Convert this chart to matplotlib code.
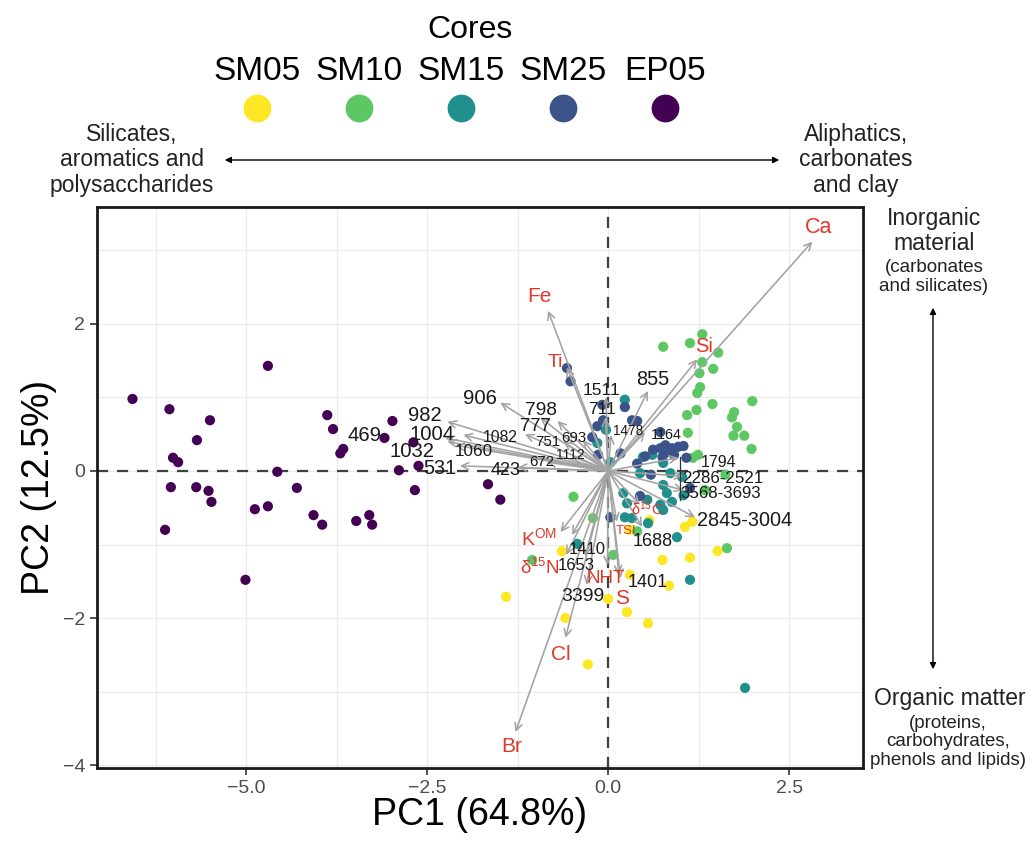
import numpy as np
import matplotlib
matplotlib.use("Agg")
import matplotlib.pyplot as plt

plt.rcParams['font.family'] = ['Liberation Sans', 'DejaVu Sans']
plt.rcParams['mathtext.default'] = 'regular'

# sample scores (PC1, PC2) per core
cores = ['SM05', 'SM10', 'SM15', 'SM25', 'EP05']
core_colors = ['#FDE725', '#5DC863', '#21908C', '#3B528B', '#440154']

sm05_x = [-0.64, -1.41, -0.59, -0.28, 0.00, 0.26, 0.55, 0.75, 1.13, 1.51, 0.84, 1.06, 1.16, 0.57, 0.30, 0.30]
sm05_y = [-1.09, -1.71, -2.00, -2.63, -1.74, -1.92, -2.07, -1.21, -1.18, -1.09, -1.56, -0.76, -0.69, -0.67, -0.80, -1.41]

sm10_x = [1.30, 1.13, 1.52, 0.76, 1.30, 1.26, 1.45, 1.27, 1.23, 1.99, 1.44, 1.22, 1.09, 1.74, 1.71,
          1.78, 1.73, 1.88, 1.98, 1.10, 1.24, 1.17, -0.48, 1.62, -0.21, 0.07, -1.05, 1.64, 0.40, 1.34]
sm10_y = [1.86, 1.74, 1.61, 1.69, 1.48, 1.33, 1.39, 1.14, 1.06, 0.95, 0.91, 0.83, 0.76, 0.80, 0.73,
          0.60, 0.48, 0.48, 0.30, 0.52, 0.22, 0.18, -0.35, -0.05, -0.64, -1.14, -1.21, -1.05, -0.82, -0.26]

sm15_x = [0.23, -0.15, 0.03, 0.44, 0.48, 0.61, 0.76, 0.86, 0.76, 1.02, 0.81, 0.21, 0.26, 0.54, 0.72,
          0.88, 0.76, 0.95, 1.04, -0.43, 1.13, 0.23, 0.33, 0.55, 1.89, -0.03]
sm15_y = [0.97, 0.38, 0.12, -0.03, 0.19, 0.22, 0.11, -0.03, -0.19, -0.08, -0.30, -0.30, -0.44, -0.39, -0.46,
          -0.42, -0.53, -0.90, -0.33, -0.99, -1.48, -0.63, -0.64, -0.71, -2.95, 0.56]

sm25_x = [-0.57, -0.52, -0.08, -0.07, -0.15, 0.23, 0.33, 0.40, -0.22, -0.14, 0.17, 0.40, 0.59, 0.44,
          0.03, 0.72, 0.62, 0.72, 0.79, 0.83, 0.75, 0.88, 0.97, 1.04, 1.08, 0.91, 1.13, 0.51]
sm25_y = [1.40, 1.22, 0.90, 0.69, 0.61, 0.87, 0.69, 0.68, 0.46, 0.22, 0.24, 0.10, -0.05, -0.34,
          -0.63, 0.53, 0.29, 0.31, 0.35, 0.26, 0.19, 0.31, 0.33, 0.34, 0.18, 0.22, -0.23, 0.20]

ep05_x = [-6.57, -6.06, -5.50, -5.68, -6.01, -5.94, -4.70, -6.04, -5.69, -5.52, -5.48, -4.57, -4.30,
          -4.88, -4.70, -4.07, -3.95, -3.48, -3.30, -3.26, -6.12, -3.88, -3.80, -3.70, -3.66, -2.98,
          -3.09, -2.69, -2.89, -2.62, -2.67, -1.66, -1.49, -5.01]
ep05_y = [0.98, 0.84, 0.69, 0.42, 0.18, 0.12, 1.43, -0.22, -0.22, -0.27, -0.42, -0.01, -0.23,
          -0.52, -0.48, -0.60, -0.73, -0.68, -0.60, -0.73, -0.80, 0.76, 0.57, 0.24, 0.30, 0.68,
          0.45, 0.39, 0.01, 0.07, -0.26, -0.18, -0.39, -1.48]

scores = [(sm05_x, sm05_y), (sm10_x, sm10_y), (sm15_x, sm15_y), (sm25_x, sm25_y), (ep05_x, ep05_y)]

# variable loadings: name, arrow tip, label position, red (element/proxy) or black (band)
var_names = ['Ca', 'Fe', 'Ti', 'Si', '855', '1511', '711', '1478', '1164', '1794',
             '2286-2521', '3568-3693', '2845-3004', r'$\delta^{13}$C', 'TSI', '1688',
             r'K$^{OM}$', '1410', r'$\delta^{15}$N', '1653', 'NHT', '1401', 'S', '3399', 'Cl', 'Br',
             '906', '798', '777', '1082', '982', '1004', '1032', '469', '1060', '531', '423',
             '751', '693', '1112', '672']
load_x = [2.82, -0.83, -0.57, 1.23, 0.55, -0.03, -0.04, 0.04, 0.51, 0.97,
          1.04, 1.04, 1.20, 0.44, 0.12, 0.47,
          -0.66, -0.50, -0.58, -0.32, -0.01, 0.17, 0.15, -0.30, -0.59, -1.28,
          -1.49, -0.94, -0.70, -1.15, -2.22, -2.00, -2.11, -2.25, -2.22, -2.05, -1.25,
          -0.62, -0.35, -0.50, -0.85]
load_y = [3.12, 2.18, 1.41, 1.52, 1.09, 1.00, 0.73, 0.49, 0.53, 0.18,
          -0.07, -0.26, -0.63, -0.46, -0.69, -0.76,
          -0.83, -0.87, -1.14, -1.16, -1.28, -1.46, -1.41, -1.55, -2.27, -3.55,
          0.93, 0.73, 0.68, 0.50, 0.67, 0.49, 0.35, 0.45, 0.40, 0.07, 0.05,
          0.40, 0.42, 0.20, 0.12]
label_x = [2.91, -0.95, -0.73, 1.33, 0.61, -0.09, -0.08, 0.28, 0.80, 1.52,
           1.58, 1.56, 1.89, 0.53, 0.25, 0.62,
           -0.96, -0.29, -0.94, -0.44, -0.03, 0.54, 0.19, -0.35, -0.66, -1.33,
           -1.77, -0.93, -1.01, -1.49, -2.53, -2.43, -2.71, -3.36, -1.85, -2.32, -1.42,
           -0.83, -0.48, -0.52, -0.91]
label_y = [3.31, 2.37, 1.48, 1.69, 1.25, 1.10, 0.83, 0.54, 0.49, 0.11,
           -0.10, -0.30, -0.67, -0.51, -0.82, -0.96,
           -0.92, -1.07, -1.32, -1.28, -1.46, -1.52, -1.73, -1.71, -2.50, -3.75,
           0.98, 0.82, 0.60, 0.46, 0.76, 0.49, 0.26, 0.48, 0.27, 0.04, 0.01,
           0.39, 0.45, 0.22, 0.12]
var_red = [True, True, True, True, False, False, False, False, False, False,
           False, False, False, True, True, False,
           True, False, True, False, True, False, True, False, True, True,
           False, False, False, False, False, False, False, False, False, False, False,
           False, False, False, False]
label_size = [15.5, 15, 14, 14.5, 14.3, 12.5, 12.5, 9.8, 10.3, 11.5,
              12.2, 12.2, 14.3, 10.5, 9.5, 13,
              14, 12, 13.5, 12, 13.5, 13, 15, 14, 15, 15,
              14.7, 13.8, 13.2, 11.3, 14.5, 14.6, 14.6, 14.6, 12.3, 14.3, 13,
              10.8, 10.8, 10, 10.8]

fig = plt.figure(figsize=(10.3, 8.44), dpi=100)
ax = fig.add_axes([0.0942, 0.090, 0.7437, 0.6647])

for (xs, ys), c in zip(scores, core_colors):
    ax.scatter(xs, ys, s=54, color=c, edgecolors='none', zorder=3)

ax.axhline(0, color='#404040', ls=(0, (5, 4)), lw=1.6, zorder=2)
ax.axvline(0, color='#404040', ls=(0, (5, 4)), lw=1.6, zorder=2)

red = '#E0382B'
for name, tx, ty, lx, ly, isred, fs in zip(var_names, load_x, load_y, label_x, label_y, var_red, label_size):
    ax.annotate('', xy=(tx, ty), xytext=(0, 0),
                arrowprops=dict(arrowstyle='->', color='#a3a3a3', lw=1.15,
                                mutation_scale=13, shrinkA=0, shrinkB=0),
                zorder=4)
    ax.text(lx, ly, name, color=red if isred else '#1a1a1a', fontsize=fs,
            ha='center', va='center', zorder=5)

# leader line for the crowded labels on the right
ax.plot([0.99, 0.99], [0.19, -0.40], color='#333333', lw=0.9, zorder=4)

ax.set_xlim(-7.06, 3.52)
ax.set_ylim(-4.04, 3.59)
ax.set_xticks([-5.0, -2.5, 0.0, 2.5])
ax.set_xticklabels(['\u22125.0', '\u22122.5', '0.0', '2.5'])
ax.set_yticks([-4, -2, 0, 2])
ax.set_yticklabels(['\u22124', '\u22122', '0', '2'])
ax.set_xticks([-6.25, -3.75, -1.25, 1.25], minor=True)
ax.set_yticks([-3, -1, 1, 3], minor=True)
ax.grid(True, which='both', color='#ebebeb', lw=1.0, zorder=0)
ax.set_axisbelow(True)
ax.tick_params(which='major', direction='out', length=5, width=1.2, color='#333333',
               labelsize=14, labelcolor='#4d4d4d')
ax.tick_params(which='minor', length=0)
for sp in ax.spines.values():
    sp.set_linewidth(2.0)
    sp.set_color('#1a1a1a')
ax.set_xlabel('PC1 (64.8%)', fontsize=27, labelpad=0)
ax.set_ylabel('PC2 (12.5%)', fontsize=27, labelpad=4)

# legend across the top
fig.text(470 / 1030, 1 - 30 / 844, 'Cores', fontsize=23, ha='center', va='center')
leg_x = np.linspace(257, 665, len(cores)) / 1030
for lx, name, c in zip(leg_x, cores, core_colors):
    fig.text(lx, 1 - 72 / 844, name, fontsize=24, ha='center', va='center')
    fig.add_artist(plt.Line2D([lx], [1 - 108 / 844], marker='o', markersize=19,
                              color=c, transform=fig.transFigure))

# interpretive axes around the plot
arrow_kw = dict(arrowstyle='<|-|>', color='black', lw=1.0, mutation_scale=9)
ax.annotate('', xy=(222 / 1030, 1 - 160 / 844), xytext=(782 / 1030, 1 - 160 / 844),
            xycoords='figure fraction', textcoords='figure fraction',
            arrowprops=arrow_kw, annotation_clip=False)
ax.annotate('', xy=(933 / 1030, 1 - 305 / 844), xytext=(933 / 1030, 1 - 672 / 844),
            xycoords='figure fraction', textcoords='figure fraction',
            arrowprops=arrow_kw, annotation_clip=False)

side_kw = dict(ha='center', va='center', color='#222222')
fig.text(132 / 1030, 1 - 160 / 844, 'Silicates,\naromatics and\npolysaccharides',
         fontsize=16.5, linespacing=1.15, **side_kw)
fig.text(856 / 1030, 1 - 160 / 844, 'Aliphatics,\ncarbonates\nand clay',
         fontsize=16.5, linespacing=1.15, **side_kw)
fig.text(934 / 1030, 1 - 231 / 844, 'Inorganic\nmaterial', fontsize=16.5, linespacing=1.1, **side_kw)
fig.text(934 / 1030, 1 - 277 / 844, '(carbonates\nand silicates)', fontsize=13.5, linespacing=1.1, **side_kw)
fig.text(950 / 1030, 1 - 698 / 844, 'Organic matter', fontsize=16.5, **side_kw)
fig.text(948 / 1030, 1 - 742 / 844, '(proteins,\ncarbohydrates,\nphenols and lipids)',
         fontsize=13.5, linespacing=1.08, **side_kw)

fig.savefig('out.png', dpi=100)
